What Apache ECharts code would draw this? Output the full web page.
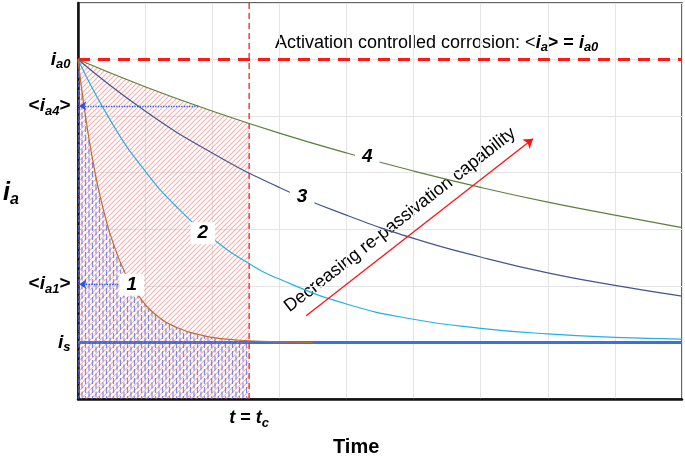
<!DOCTYPE html>
<html>
<head>
<meta charset="utf-8">
<script src="https://cdn.jsdelivr.net/npm/echarts@6/dist/echarts.min.js"></script>
<style>html,body{margin:0;padding:0;background:#fff}#c{width:685px;height:457px}</style>
</head>
<body>
<div id="c"></div>
<script>
// ---- data ----
const tc = 2.55;
const ia0 = 6;
const is = 1;
const ia4 = 5.18;
const ia1 = 2.03;
const curve1T = [0, 0.1, 0.2, 0.3, 0.4, 0.5, 0.7, 0.9, 1.2, 1.5, 1.8, 2.1, 2.55, 3.0, 3.5];
const curve1V = [6, 5.09, 4.35, 3.74, 3.25, 2.84, 2.23, 1.83, 1.45, 1.25, 1.14, 1.07, 1.03, 1.01, 1.0];
const curve2T = [0, 0.5, 1, 1.5, 2, 2.5, 3, 4, 5, 6, 7, 8, 9];
const curve2V = [6, 4.89, 4.03, 3.36, 2.84, 2.43, 2.12, 1.68, 1.41, 1.25, 1.15, 1.09, 1.06];
const curve3T = [0, 1, 2, 3, 4, 5, 6, 7, 8, 9];
const curve3V = [6, 5.09, 4.35, 3.74, 3.25, 2.84, 2.51, 2.23, 2.01, 1.82];
const curve4T = [0, 1, 2, 3, 4, 5, 6, 7, 8, 9];
const curve4V = [6, 5.52, 5.09, 4.70, 4.35, 4.03, 3.74, 3.48, 3.25, 3.03];
const hatch4T = [0, 0.5, 1, 1.5, 2, 2.55];
const hatch4V = [6, 5.76, 5.52, 5.30, 5.09, 4.87];
const hatch1T = [0, 0.1, 0.2, 0.3, 0.4, 0.5, 0.7, 0.9, 1.2, 1.5, 1.8, 2.1, 2.55];
const hatch1V = [6, 5.09, 4.35, 3.74, 3.25, 2.84, 2.23, 1.83, 1.45, 1.25, 1.14, 1.07, 1.03];
const curveLabels = ['1', '2', '3', '4'];
const curveLabelT = [0.80, 1.86, 3.34, 4.31];
const curveLabelV = [2.02, 2.93, 3.57, 4.28];
const arrowStart = [3.40, 1.47];
const arrowEnd = [6.78, 4.60];
const ia4ArrowFromT = 1.79;
const ia1ArrowFromT = 0.72;

function zip(a, b) { return a.map((x, i) => [x, b[i]]); }

// hatch patterns
function redPattern() {
  const c = document.createElement('canvas');
  c.width = 5; c.height = 5;
  const g = c.getContext('2d');
  g.strokeStyle = 'rgba(240,110,110,0.55)';
  g.lineWidth = 1.1;
  g.beginPath();
  g.moveTo(-1, 6); g.lineTo(6, -1);
  g.moveTo(-1, 1); g.lineTo(1, -1);
  g.moveTo(4, 6); g.lineTo(6, 4);
  g.stroke();
  return c;
}
function bluePattern() {
  const c = document.createElement('canvas');
  c.width = 7; c.height = 18;
  const g = c.getContext('2d');
  g.strokeStyle = 'rgba(70,100,220,0.7)';
  g.lineWidth = 1.2;
  g.beginPath();
  g.moveTo(1.5, 0); g.lineTo(1.5, 6);
  g.moveTo(1.5, 9); g.lineTo(1.5, 15);
  g.moveTo(5, 4.5); g.lineTo(5, 10.5);
  g.moveTo(5, 13.5); g.lineTo(5, 18);
  g.moveTo(5, 0); g.lineTo(5, 1.5);
  g.stroke();
  return c;
}

const chart = echarts.init(document.getElementById('c'), null, { renderer: 'canvas' });
const F = 'Liberation Sans, Arial, sans-serif';
const richY = {
  b: { fontSize: 19, fontWeight: 'bold', fontFamily: F, color: '#000' },
  i: { fontSize: 19, fontWeight: 'bold', fontStyle: 'italic', fontFamily: F, color: '#000' },
  s: { fontSize: 13, fontWeight: 'bold', fontStyle: 'italic', fontFamily: F, color: '#000', padding: [10, 0, 0, 0] }
};
const yLabelData = [
  { value: [0, ia0], label: { formatter: '{i|i}{s|a0}' } },
  { value: [0, ia4], label: { formatter: '{b|<}{i|i}{s|a4}{b|>}' } },
  { value: [0, ia1], label: { formatter: '{b|<}{i|i}{s|a1}{b|>}' } },
  { value: [0, is], label: { formatter: '{i|i}{s|s}' } }
];

const option = {
  animation: false,
  grid: { left: 78, top: 3, width: 604, height: 396, show: true, borderColor: '#333', borderWidth: 1.5, backgroundColor: 'transparent' },
  xAxis: {
    type: 'value', min: 0, max: 9, interval: 1,
    axisLine: { show: true, lineStyle: { color: '#111', width: 2.5 } },
    axisTick: { show: false }, axisLabel: { show: false },
    splitLine: { show: true, lineStyle: { color: '#e4e4e4', width: 1 } }
  },
  yAxis: {
    type: 'value', min: 0, max: 7, interval: 1,
    axisLine: { show: true, lineStyle: { color: '#111', width: 2.5 } },
    axisTick: { show: false }, axisLabel: { show: false },
    splitLine: { show: true, lineStyle: { color: '#e4e4e4', width: 1 } }
  },
  graphic: [
    { type: 'text', left: 3, top: 181, style: { rich: { i: { fontSize: 25, fontWeight: 'bold', fontStyle: 'italic', fontFamily: F, fill: '#000' }, s: { fontSize: 16, fontWeight: 'bold', fontStyle: 'italic', fontFamily: F, fill: '#000', padding: [13, 0, 0, 0] } }, text: '{i|i}{s|a}' } },
    { type: 'text', left: 333, top: 437, style: { text: 'Time', fontSize: 20, fontWeight: 'bold', fontFamily: F, fill: '#000' } },
    { type: 'text', left: 275, top: 34, style: { rich: {
        n: { fontSize: 18, fontFamily: F, fill: '#000' },
        b: { fontSize: 18, fontWeight: 'bold', fontFamily: F, fill: '#000' },
        i: { fontSize: 18, fontWeight: 'bold', fontStyle: 'italic', fontFamily: F, fill: '#000' },
        s: { fontSize: 13, fontWeight: 'bold', fontStyle: 'italic', fontFamily: F, fill: '#000', padding: [9, 0, 0, 0] }
      }, text: '{n|Activation controlled corrosion: <}{i|i}{s|a}{b|> = }{i|i}{s|a0}' } },
    { type: 'text', x: 400, y: 220, rotation: 38 * Math.PI / 180, style: { text: 'Decreasing re-passivation capability', fontSize: 18, fontFamily: F, fill: '#000', align: 'center', verticalAlign: 'middle' } }
  ],
  series: [
    { type: 'line', name: 'is', data: [[0, is], [9, is]], symbol: 'none', lineStyle: { color: '#3b6fe6', width: 3 }, z: 2 },
    { type: 'line', name: 'hatch4', data: zip(hatch4T, hatch4V), symbol: 'none', smooth: true, lineStyle: { width: 0 }, areaStyle: { color: { image: redPattern(), repeat: 'repeat' }, opacity: 1 }, z: 3 },
    { type: 'line', name: 'hatch1', data: zip(hatch1T, hatch1V), symbol: 'none', smooth: true, lineStyle: { width: 0 }, areaStyle: { color: { image: bluePattern(), repeat: 'repeat' }, opacity: 1 }, z: 4 },
    { type: 'line', name: 'ia0', data: [[0, ia0], [9, ia0]], symbol: 'none', lineStyle: { color: '#ff1a1a', width: 3, type: [12, 8] }, z: 5 },
    { type: 'line', name: 'tc', data: [[tc, 0], [tc, 7]], symbol: 'none', lineStyle: { color: '#ee2222', width: 1.3, type: [6, 4] }, z: 5 },
    { type: 'line', name: '4', data: zip(curve4T, curve4V), symbol: 'none', smooth: true, lineStyle: { color: '#5d7f3c', width: 1.2 }, z: 6 },
    { type: 'line', name: '3', data: zip(curve3T, curve3V), symbol: 'none', smooth: true, lineStyle: { color: '#44568c', width: 1.2 }, z: 6 },
    { type: 'line', name: '2', data: zip(curve2T, curve2V), symbol: 'none', smooth: true, lineStyle: { color: '#22b0e6', width: 1.2 }, z: 6 },
    { type: 'line', name: '1', data: zip(curve1T, curve1V), symbol: 'none', smooth: true, lineStyle: { color: '#c06a35', width: 1.2 }, z: 6 },
    { type: 'lines', coordinateSystem: 'cartesian2d', polyline: false, symbol: ['none', 'arrow'], symbolSize: 7,
      lineStyle: { color: '#2a55dd', width: 1.3, type: 'dotted', opacity: 1 },
      data: [ { coords: [[ia4ArrowFromT, ia4], [0.02, ia4]] }, { coords: [[ia1ArrowFromT, ia1], [0.02, ia1]] } ], z: 7 },
    { type: 'lines', coordinateSystem: 'cartesian2d', polyline: false, symbol: ['none', 'arrow'], symbolSize: 9,
      lineStyle: { color: '#ff1111', width: 1.3, opacity: 1 },
      data: [ { coords: [arrowStart, arrowEnd] } ], z: 7 },
    { type: 'scatter', name: 'curveLabels', symbolSize: 1, itemStyle: { color: 'transparent', opacity: 1 }, z: 8,
      data: curveLabels.map((n, i) => ({ value: [curveLabelT[i], curveLabelV[i]], name: n })),
      label: { show: true, position: 'inside', formatter: p => p.name, fontSize: 19, fontWeight: 'bold', fontStyle: 'italic', fontFamily: F, color: '#000', opacity: 1, backgroundColor: '#fff', padding: [2, 7, 1, 7] } },
    { type: 'scatter', name: 'yLabels', symbolSize: 1, itemStyle: { color: 'transparent', opacity: 1 }, z: 8, clip: false,
      data: yLabelData,
      label: { show: true, position: 'left', distance: 7, rich: richY } },
    { type: 'scatter', name: 'tcLabel', symbolSize: 1, itemStyle: { color: 'transparent', opacity: 1 }, z: 8, clip: false,
      data: [{ value: [tc, 0], label: { formatter: '{i|t}{b| = }{i|t}{s|c}' } }],
      label: { show: true, position: 'bottom', distance: 8, rich: {
        b: { fontSize: 18, fontWeight: 'bold', fontFamily: F, color: '#000' },
        i: { fontSize: 18, fontWeight: 'bold', fontStyle: 'italic', fontFamily: F, color: '#000' },
        s: { fontSize: 13, fontWeight: 'bold', fontStyle: 'italic', fontFamily: F, color: '#000', padding: [9, 0, 0, 0] } } } }
  ]
};
chart.setOption(option);
</script>
</body>
</html>
